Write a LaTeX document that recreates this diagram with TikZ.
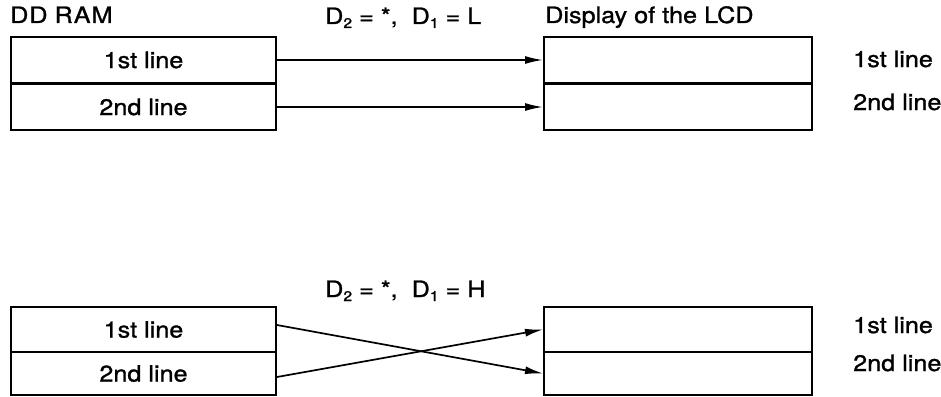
\documentclass[tikz,border=0pt]{standalone}
\usepackage{fontspec}
\setmainfont{TeX Gyre Heros}[FakeStretch=1.12, FakeBold=1.2]
\usetikzlibrary{arrows.meta}
\newcommand{\lowsub}[1]{\raisebox{-4pt}{\fontsize{14}{14}\selectfont #1}}
\begin{document}
\begin{tikzpicture}[x=1pt,y=-1pt,
  every node/.style={font=\fontsize{22.5}{26}\selectfont, inner sep=0pt},
  cell/.style={draw, line width=2pt, minimum width=265pt, minimum height=46pt, anchor=north west},
  lbl/.style={anchor=base west},
  conn/.style={line width=1.7pt, -{Latex[length=18pt,width=8pt]}}]
\useasboundingbox (0,0) rectangle (941,396);
% top group
\node[lbl] (ddram) at (10,23) {D\kern1pt D R\kern1pt A\kern1pt M};
\node[lbl] (condL) at (325,24) {D\lowsub{2} = *,\ \ D\lowsub{1} = L};
\node[lbl] (disp) at (545,23) {Display of the LCD};
\node[cell] (L1) at (10,36) {1st line};
\node[cell] (L2) at (10,83) {2nd line};
\node[cell, minimum width=268pt] (R1) at (543,36) {};
\node[cell, minimum width=268pt] (R2) at (543,83) {};
\node[lbl] (r1t) at (853,67) {1st line};
\node[lbl] (r2t) at (853,110) {2nd line};
\draw[conn] (L1.east) -- (R1.west);
\draw[conn] (L2.east) -- (R2.west);
% bottom group
\node[lbl] (condH) at (325,297) {D\lowsub{2} = *,\ \ D\lowsub{1} = H};
\node[cell, minimum height=45pt] (B1) at (10,306) {1st line};
\node[cell, minimum height=43pt] (B2) at (10,351) {2nd line};
\node[cell, minimum width=268pt, minimum height=45pt] (S1) at (543,306) {};
\node[cell, minimum width=268pt, minimum height=43pt] (S2) at (543,351) {};
\node[lbl] (s1t) at (853,333) {1st line};
\node[lbl] (s2t) at (853,371) {2nd line};
\draw[conn] ([yshift=4.5pt]B1.east) -- (S2.west);
\draw[conn] ([yshift=-3.5pt]B2.east) -- (S1.west);
\end{tikzpicture}
\end{document}
